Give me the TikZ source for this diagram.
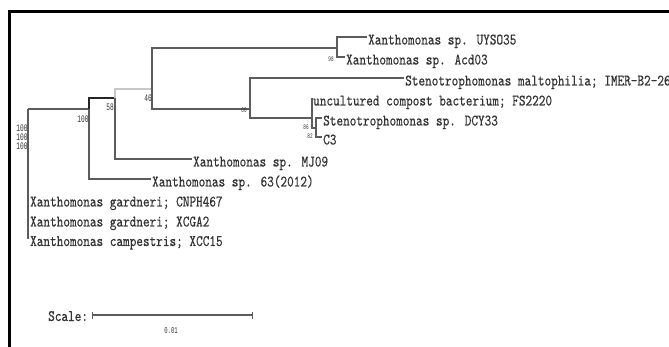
\documentclass[tikz,border=0pt]{standalone}
\usepackage{fontspec}
\newfontfamily\treefont{lmmono10-regular}[Extension=.otf, FakeStretch=0.79, FakeBold=0.4]
\newfontfamily\bsfont[FakeStretch=0.62]{Liberation Mono}
\begin{document}
\begin{tikzpicture}[x=1pt,y=-1pt,
  br/.style={draw=black!64, line width=1.5pt},
  leaf/.style={anchor=base west, inner sep=0pt, text=black!80,
    font=\treefont\fontsize{16}{16}\selectfont},
  bs/.style={inner sep=0pt, text=black!80, font=\bsfont\fontsize{10}{10}\selectfont},
  bss/.style={inner sep=0pt, text=black!80, font=\bsfont\fontsize{7}{7}\selectfont}]
\useasboundingbox (0,0) rectangle (669,347);
\clip (0,0) rectangle (669,347);
\fill[white] (0,0) rectangle (669,347);
% frame
\draw[line width=3pt, line cap=rect] (9.5,350) -- (9.5,11.5) -- (672,11.5);

% internal nodes
\coordinate (R) at (28,109);
\coordinate (n100) at (89,109);
\coordinate (n58) at (115,98);
\coordinate (n46) at (152,89);
\coordinate (n98) at (337,48);
\coordinate (n80) at (250,109);
\coordinate (nU) at (312,118);
\coordinate (n86) at (316,128);

% leaves
\node[leaf] (lUY)  at (368,44.5) {Xanthomonas sp. UYSO35};
\node[leaf] (lAc)  at (346,64.5) {Xanthomonas sp. Acd03};
\node[leaf] (lSm)  at (405,85.5) {Stenotrophomonas maltophilia; IMER-B2-26};
\node[leaf] (lUn)  at (313,105.5) {uncultured compost bacterium; FS2220};
\node[leaf] (lDC)  at (323,125.5) {Stenotrophomonas sp. DCY33};
\node[leaf] (lC3)  at (323,144.5) {C3};
\node[leaf] (lMJ)  at (193,166.5) {Xanthomonas sp. MJ09};
\node[leaf] (l63)  at (152,186.5) {Xanthomonas sp. 63(2012)};
\node[leaf] (lCN)  at (30,206.5) {Xanthomonas gardneri; CNPH467};
\node[leaf] (lXG)  at (30,226.5) {Xanthomonas gardneri; XCGA2};
\node[leaf] (lXC)  at (30,246) {Xanthomonas campestris; XCC15};

% branches
\draw[br] (R) -- (n100);
\draw[br] (R) |- ([yshift=7.5pt,xshift=-1pt]lCN.base west);
\draw[br] (R) |- ([yshift=7.5pt,xshift=-1pt]lXG.base west);
\draw[br] (R) |- ([yshift=7.5pt,xshift=-1pt]lXC.base west);
\draw[br, draw=black!85] (n100) |- (n58);
\draw[br] (n100) |- ([yshift=7.5pt,xshift=-1pt]l63.base west);
\draw[br, draw=black!22] (n58) -- ++(0,-9) -| (n46);
\draw[br] (n58) |- ([yshift=7.5pt,xshift=-1pt]lMJ.base west);
\draw[br] (n46) |- (n98);
\draw[br] (n46) |- (n80);
\draw[br] (n98) |- ([yshift=7.5pt,xshift=-1pt]lUY.base west);
\draw[br] (n98) |- ([yshift=7.5pt,xshift=-1pt]lAc.base west);
\draw[br] (n80) |- ([yshift=7.5pt,xshift=-1pt]lSm.base west);
\draw[br] (n80) |- (nU);
\draw[br] (nU) |- ([yshift=7.5pt]lUn.base west -| nU);
\draw[br] (nU) |- (n86);
\draw[br] (n86) |- ([yshift=7.5pt,xshift=-1pt]lDC.base west);
\draw[br] (n86) |- ([yshift=7.5pt,xshift=-1pt]lC3.base west);

% bootstrap values
\node[bs] (b100) at (83,119) {100};
\node[bs] (b58)  at (110,107) {58};
\node[bs] (b46)  at (148,98) {46};
\node[bss] (b98) at (331,59) {98};
\node[bss] (b80) at (244,110) {80};
\node[bss] (b86) at (306,127) {86};
\node[bss] (b82) at (310,136) {82};
\node[bs] (r1) at (22,128) {100};
\node[bs] (r2) at (22,137) {100};
\node[bs] (r3) at (22,146) {100};

% scale bar
\node[leaf] (sc) at (48,321) {Scale:};
\coordinate (s0) at (92,315);
\coordinate (s1) at (252,315);
\draw[br] (s0) -- (s1);
\draw[br, line width=1pt] ([yshift=3.5pt]s0) -- ([yshift=-3.5pt]s0);
\draw[br, line width=1pt] ([yshift=3.5pt]s1) -- ([yshift=-3.5pt]s1);
\node[bs, font=\bsfont\fontsize{9}{9}\selectfont] (sv) at (171,331) {0.01};
\end{tikzpicture}
\end{document}
